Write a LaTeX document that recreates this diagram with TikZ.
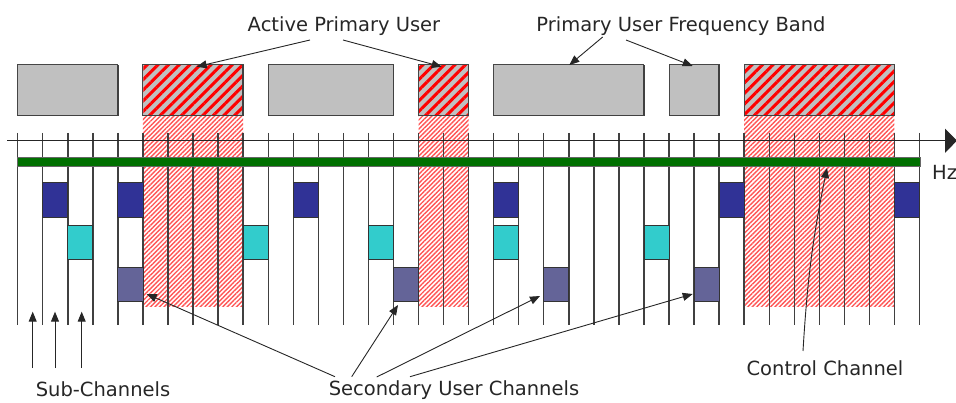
\documentclass[tikz,border=0pt]{standalone}
\usepackage{fontspec}
\setmainfont{DejaVu Sans}
\usetikzlibrary{arrows.meta,patterns.meta}
\definecolor{pugray}{RGB}{192,192,192}
\definecolor{puedge}{RGB}{70,70,70}
\definecolor{ccgreen}{RGB}{0,112,0}
\definecolor{sudark}{RGB}{48,50,150}
\definecolor{sucyan}{RGB}{50,204,204}
\definecolor{suslate}{RGB}{100,100,152}
\definecolor{hatchred}{RGB}{255,0,0}
\definecolor{hatchlight}{RGB}{255,85,85}
\tikzset{
  vline/.style={draw=black!75,line width=1.4pt},
  pubox/.style={draw=puedge,fill=pugray,line width=1pt},
  pushadow/.style={draw=black!75,line width=1.4pt},
  hatchblock/.style={pattern={Lines[angle=45,distance=7.5pt,line width=3pt]},pattern color=hatchred},
  hatchzone/.style={pattern={Lines[angle=45,distance=3.2pt,line width=1.4pt]},pattern color=hatchlight},
  sqbox/.style={draw=black!80,line width=0.9pt},
  arr/.style={draw=black!85,line width=0.9pt,-{Triangle[length=10pt,width=8pt]}},
  lbl/.style={font=\fontsize{19.5}{22}\selectfont,text=black!85,inner sep=0pt},
}
\begin{document}
\begin{tikzpicture}[x=1pt,y=-1pt]
\useasboundingbox (0,0) rectangle (956,403);
\pgfmathsetmacro{\xo}{17.7}
\pgfmathsetmacro{\dx}{25.05}
% hatched zones under active primary users
\foreach \a/\b in {5/9,16/18,29/35}{
  \fill[hatchzone] ({\xo+\dx*\a},115.7) rectangle ({\xo+\dx*\b},306.7);
}
% sub-channel lines
\foreach \i in {0,...,36}{
  \draw[vline] ({\xo+\dx*\i},133) -- ({\xo+\dx*\i},325);
}
% frequency axis
\coordinate (ax0) at (7,140.7);
\coordinate (ax1) at (957,140.7);
\draw[line width=1.2pt,black!85,-{Triangle[length=12pt,width=24pt]}] (ax0) -- (ax1);
\node[lbl,anchor=west] (hz) at (932,172) {Hz};
% control channel (green bar)
\fill[ccgreen,draw=black!60,line width=0.5pt] (\xo,157.5) rectangle (920,166);
% secondary user squares
\foreach \i in {1,4,11,19,28,35}{
  \filldraw[sqbox,fill=sudark] ({\xo+\dx*\i},182.7) rectangle ({\xo+\dx*(\i+1)},217.7);
}
\foreach \i in {2,9,14,19,25}{
  \filldraw[sqbox,fill=sucyan] ({\xo+\dx*\i},225) rectangle ({\xo+\dx*(\i+1)},259.3);
}
\foreach \i in {4,15,21,27}{
  \filldraw[sqbox,fill=suslate] ({\xo+\dx*\i},267.3) rectangle ({\xo+\dx*(\i+1)},301.7);
}
% primary user blocks
\foreach \a/\b/\h in {0/4/0,5/9/1,10/15/0,16/18/1,19/25/0,26/28/0,29/35/1}{
  \filldraw[pubox] ({\xo+\dx*\a},65) rectangle ({\xo+\dx*\b},115.7);
  \ifnum\h=1
    \fill[hatchblock] ({\xo+\dx*\a+0.5},65.5) rectangle ({\xo+\dx*\b-0.5},115.2);
    \draw[draw=puedge,line width=1pt] ({\xo+\dx*\a},65) rectangle ({\xo+\dx*\b},115.7);
  \fi
  \draw[pushadow] ({\xo+\dx*\a},115.7) -- ({\xo+\dx*\b},115.7) -- ({\xo+\dx*\b},65.5);
}
% labels
\node[lbl] (apu) at (344,26) {Active Primary User};
\node[lbl] (pufb) at (681,26) {Primary User Frequency Band};
\node[lbl] (subc) at (103,389) {Sub-Channels};
\node[lbl] (suc) at (454,390) {Secondary User Channels};
\node[lbl] (cc) at (825,368) {Control Channel};
% arrow coordinates
\coordinate (a1s) at (310,40);   \coordinate (a1t) at (196.7,66.7);
\coordinate (a2s) at (343,40);   \coordinate (a2t) at (441.7,66.7);
\coordinate (p1s) at (602.7,37); \coordinate (p1t) at (569.3,65);
\coordinate (p2s) at (626,40);   \coordinate (p2t) at (692.7,66);
\coordinate (s1s) at (32.7,368); \coordinate (s1t) at (32.7,311.7);
\coordinate (s2s) at (55,368);   \coordinate (s2t) at (55,311.7);
\coordinate (s3s) at (81.7,368); \coordinate (s3t) at (81.7,311.7);
\coordinate (u1s) at (335,376.7);   \coordinate (u1t) at (146.7,294);
\coordinate (u2s) at (351.7,376.7); \coordinate (u2t) at (398,305);
\coordinate (u3s) at (376.7,377);   \coordinate (u3t) at (540,296);
\coordinate (u4s) at (410,376.7);   \coordinate (u4t) at (692.7,294);
\coordinate (cs) at (803,351);      \coordinate (ct) at (827,168);
\foreach \s/\t in {a1s/a1t,a2s/a2t,p1s/p1t,p2s/p2t,s1s/s1t,s2s/s2t,s3s/s3t,u1s/u1t,u2s/u2t,u3s/u3t,u4s/u4t}{
  \draw[arr] (\s) -- (\t);
}
\draw[arr] (cs) to[bend left=4] (ct);
\end{tikzpicture}
\end{document}
